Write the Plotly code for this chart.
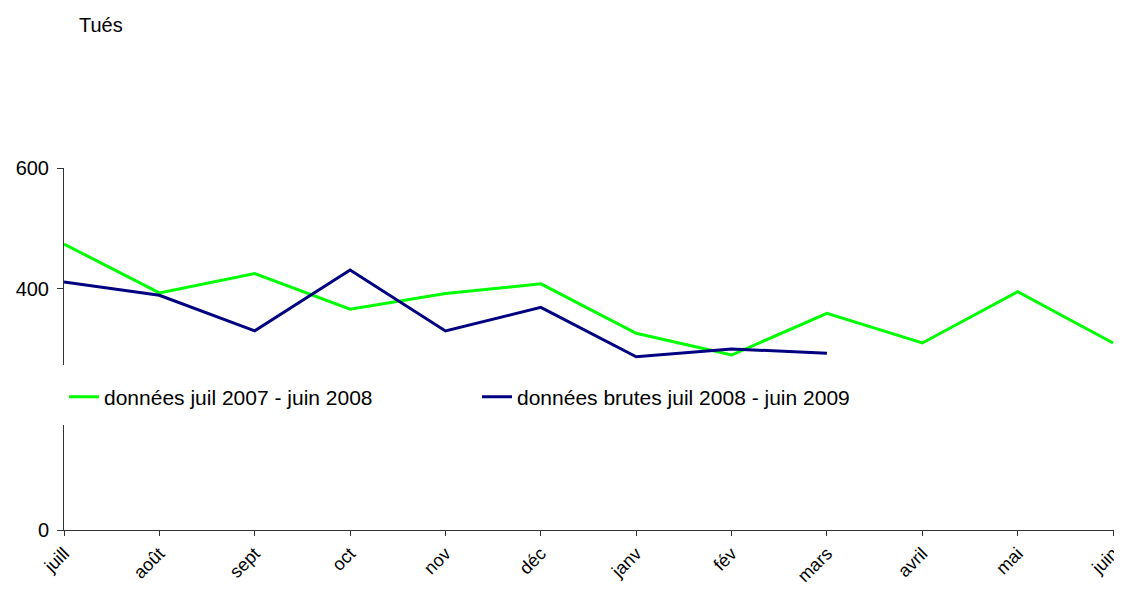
import plotly.graph_objects as go

months = ["juill", "août", "sept", "oct", "nov", "déc", "janv", "fév", "mars", "avril", "mai", "juin"]
s2007 = [474, 393, 425, 366, 392, 408, 326, 290, 359, 310, 395, 310]
s2008 = [411, 389, 330, 431, 330, 369, 287, 300, 293]
name2007 = "données juil 2007 - juin 2008"
name2008 = "données brutes juil 2008 - juin 2009"

W, H = 1106, 578
L, R, T, B = 56, 0, 160, 56
PW, PH = W - L - R, H - T - B

def px(fx):
    return (fx - L) / PW

def py(fy):
    return 1 - (fy - T) / PH

fig = go.Figure()
fig.add_trace(go.Scatter(x=list(range(len(s2007))), y=s2007, mode="lines", name=name2007,
                         line=dict(color="#00FF00", width=3)))
fig.add_trace(go.Scatter(x=list(range(len(s2008))), y=s2008, mode="lines", name=name2008,
                         line=dict(color="#000080", width=3)))

font = "Liberation Sans, Arial, sans-serif"
fig.update_layout(
    width=W, height=H,
    margin=dict(l=L, r=R, t=T, b=B, pad=0),
    paper_bgcolor="white", plot_bgcolor="white",
    font=dict(family=font, size=20, color="black"),
    showlegend=True,
    legend=dict(orientation="h", x=0, y=py(389),
                xanchor="left", yanchor="middle",
                bgcolor="rgba(0,0,0,0)", borderwidth=0,
                font=dict(size=21), entrywidth=368, itemwidth=30),
    xaxis=dict(range=[0, 11.01], tickvals=list(range(len(months))), ticktext=months,
               tickangle=-45, showgrid=False, zeroline=False, showline=True,
               linecolor="#333333", linewidth=1, ticks="outside", ticklen=5,
               tickcolor="#333333", tickfont=dict(size=18),
               ticklabeloverflow="allow", automargin=False),
    yaxis=dict(range=[0, 600], tickvals=[0, 400, 600], showgrid=False, zeroline=False,
               showline=True, linecolor="#333333", linewidth=1, ticks="outside",
               ticklen=6, tickcolor="#333333", tickfont=dict(size=20),
               ticklabelstandoff=4, automargin=False),
    shapes=[dict(type="rect", xref="paper", yref="paper", layer="above",
                 x0=px(40), x1=px(66), y0=py(417), y1=py(357),
                 fillcolor="white", line=dict(width=0))],
    annotations=[dict(text="Tués", xref="paper", yref="paper", x=px(69),
                      y=1 + (T - 17) / PH, xanchor="left", yanchor="middle",
                      showarrow=False, font=dict(size=20))],
)
fig.write_html("out.html")
